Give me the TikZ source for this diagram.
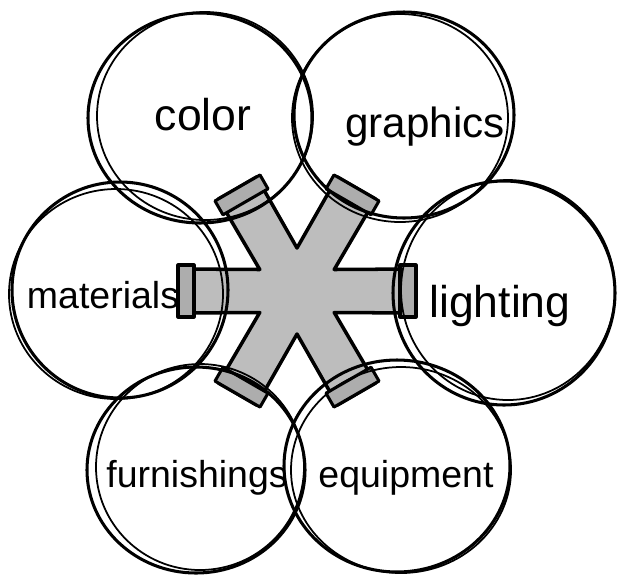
\documentclass[tikz,border=0pt]{standalone}
\usepackage{fontspec}
\setmainfont{Liberation Sans}
\usetikzlibrary{calc}

\tikzset{
  ring/.style={line width=2.6pt},
  ringb/.style={line width=1.5pt},
  word/.style={font=\fontsize{#1}{40}\selectfont, anchor=base, inner sep=0pt},
  word/.default=34,
  arm/.style={line width=3pt, line join=round, fill=gray!52},
  armcap/.style={line width=2.6pt, line join=round, fill=gray!64},
}

\begin{document}
\begin{tikzpicture}[x=0.03cm, y=-0.03cm]
    \useasboundingbox (0,0) rectangle (617,575);
    \coordinate (mid) at (297,291);
    % the six-armed star
    \draw[arm] ($(mid)+(-30:43)$)
      \foreach \a in {0,60,...,300}{
        -- ($(mid)+(\a:119)+(\a-90:22)$) -- ($(mid)+(\a:119)+(\a+90:22)$) -- ($(mid)+(\a+30:43)$)
      } -- cycle;
    \foreach \a in {0,60,...,300}
      \draw[armcap, rotate around={\a:(mid)}] ($(mid)+(103,-26)$) rectangle ($(mid)+(119,26)$);
    % circles, each drawn twice
    \draw[ring] (200,118) ellipse [x radius=112, y radius=105];
    \draw[ringb] (205,116) ellipse [x radius=108, y radius=104];
    \draw[ring] (404,115) ellipse [x radius=110, y radius=103];
    \draw[ringb] (400,118) ellipse [x radius=108, y radius=104];
    \draw[ring] (120,290) ellipse [x radius=108, y radius=108];
    \draw[ringb] (116,294) ellipse [x radius=107, y radius=105];
    \draw[ring] (504,293) ellipse [x radius=111, y radius=112];
    \draw[ringb] (508,290) ellipse [x radius=107, y radius=110];
    \draw[ring] (196,470) ellipse [x radius=109, y radius=103];
    \draw[ringb] (200,467) ellipse [x radius=104, y radius=103];
    \draw[ring] (397,466) ellipse [x radius=113, y radius=106];
    \draw[ringb] (401,470) ellipse [x radius=110, y radius=103];
    % words
    \node[word=38] (color) at (203,130) {color};
    \node[word=36] (graphics) at (425,137) {graphics};
    \node[word=32] (materials) at (103,308) {materials};
    \node[word=38] (lighting) at (500,317) {lighting};
    \node[word=32] (furnishings) at (197,487) {furnishings};
    \node[word=32] (equipment) at (406,487) {equipment};
\end{tikzpicture}
\end{document}
